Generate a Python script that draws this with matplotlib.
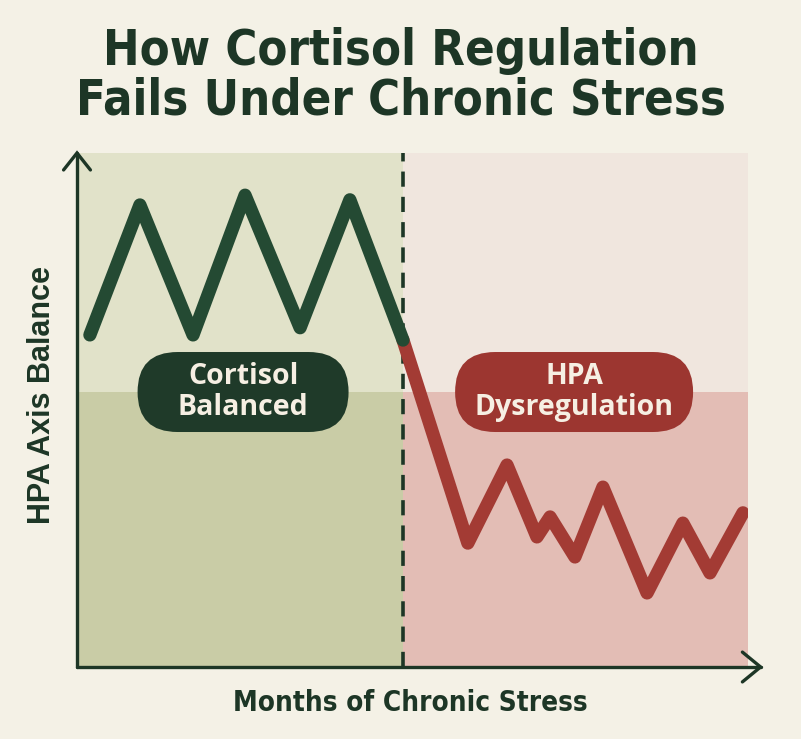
import matplotlib
matplotlib.use("Agg")
import matplotlib.pyplot as plt
from matplotlib.patches import FancyBboxPatch
from matplotlib.transforms import IdentityTransform

# ---- data ----
months_balanced = [0.46, 2.25, 4.15, 6.01, 7.98, 9.76, 11.66]
hpa_balanced = [6.46, 8.99, 6.46, 9.18, 6.60, 9.09, 6.36]
months_dysreg = [11.66, 13.98, 15.38, 16.45, 16.92, 17.81, 18.81, 20.39, 21.67, 22.64, 23.82]
hpa_dysreg = [6.36, 2.41, 3.93, 2.53, 2.92, 2.14, 3.50, 1.44, 2.80, 1.83, 3.00]
stress_onset = 11.66
band_split = 5.35
x_max = 24
y_max = 10
title = "How Cortisol Regulation\nFails Under Chronic Stress"
xlabel = "Months of Chronic Stress"
ylabel = "HPA Axis Balance"
label_balanced = "Cortisol\nBalanced"
label_dysreg = "HPA\nDysregulation"
label_balanced_pos = (5.94, 5.35)
label_dysreg_pos = (17.78, 5.35)

# ---- colours ----
bg = "#f4f1e6"
dark = "#1d3626"
green_line = "#244a33"
red_line = "#a33b34"
green_box = "#1f3a29"
red_box = "#9c3630"

fig = plt.figure(figsize=(8.01, 7.39), dpi=100, facecolor=bg)
ax = fig.add_axes([77/801, 72/739, 671/801, 514/739])
ax.set_xlim(0, x_max)
ax.set_ylim(0, y_max)
ax.set_facecolor(bg)
for s in ax.spines.values():
    s.set_visible(False)
ax.set_xticks([])
ax.set_yticks([])

# region shading
ax.fill_between([0, stress_onset], band_split, y_max, color="#e1e2c9", lw=0, zorder=0)
ax.fill_between([0, stress_onset], 0, band_split, color="#c9cca6", lw=0, zorder=0)
ax.fill_between([stress_onset, x_max], band_split, y_max, color="#f0e6de", lw=0, zorder=0)
ax.fill_between([stress_onset, x_max], 0, band_split, color="#e3bdb5", lw=0, zorder=0)

# dashed divider
ax.plot([stress_onset, stress_onset], [0, y_max], color=dark, lw=2.6,
        dashes=(4.2, 2.8), zorder=2)

# lines
ax.plot(months_dysreg, hpa_dysreg, color=red_line, lw=9.5, solid_joinstyle="round",
        solid_capstyle="round", zorder=3)
ax.plot(months_balanced, hpa_balanced, color=green_line, lw=9.5, solid_joinstyle="round",
        solid_capstyle="round", zorder=4)

# axes with arrows
ax.plot([0, 0], [0, y_max], color=dark, lw=2.4, clip_on=False, zorder=5,
        solid_capstyle="round")
ax.plot([0, x_max + 0.45], [0, 0], color=dark, lw=2.4, clip_on=False, zorder=5,
        solid_capstyle="round")
ax.plot([-0.48, 0, 0.48], [y_max - 0.33, y_max, y_max - 0.33], color=dark, lw=2.4,
        clip_on=False, zorder=5, solid_capstyle="round", solid_joinstyle="miter")
ax.plot([x_max - 0.2, x_max + 0.45, x_max - 0.2], [0.29, 0, -0.29], color=dark, lw=2.4,
        clip_on=False, zorder=5, solid_capstyle="round", solid_joinstyle="miter")

# label boxes
fig.canvas.draw()
def pill(pos, w, h, color, text):
    cx, cy = ax.transData.transform(pos)
    r = h / 2
    p = FancyBboxPatch((cx - w/2 + r, cy - h/2 + r), w - 2*r, h - 2*r,
                       boxstyle=f"round,pad={r},rounding_size={r}",
                       facecolor=color, edgecolor="none", zorder=6)
    ax.add_patch(p)
    p.set_transform(IdentityTransform())
    ax.text(pos[0], pos[1], text, ha="center", va="center", color="#f6efe3",
            fontsize=20.5, fontweight="bold", family=["Open Sans", "DejaVu Sans"],
            linespacing=1.1, zorder=7)

pill(label_balanced_pos, 211, 80, green_box, label_balanced)
pill(label_dysreg_pos, 238, 80, red_box, label_dysreg)

# texts
fig.text(0.5, 1 - 76/739, title, ha="center", va="center", color=dark, fontsize=35,
         fontweight="bold", family=["DejaVu Sans"],
         fontstretch="condensed", linespacing=1.05)
fig.text(0.5 + 10/801, 1 - 703/739, xlabel, ha="center", va="center", color=dark,
         fontsize=20, fontweight="bold",
         family=["DejaVu Sans"], fontstretch="condensed")
fig.text(42/801, 1 - 395/739, ylabel, ha="center", va="center", rotation=90,
         color=dark, fontsize=22, fontweight="bold",
         family=["Liberation Sans", "DejaVu Sans"])

fig.savefig("out.png", dpi=100, facecolor=bg)
